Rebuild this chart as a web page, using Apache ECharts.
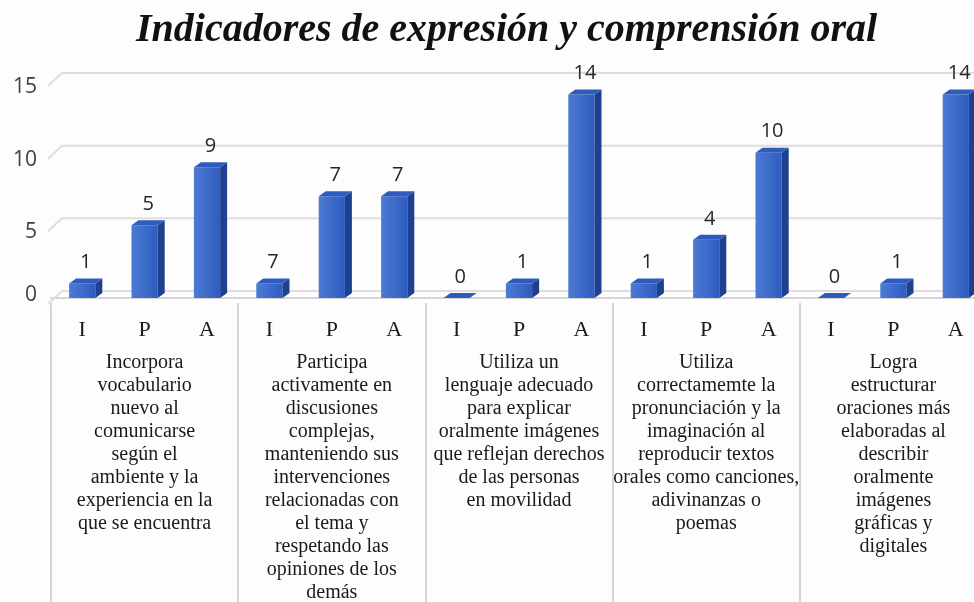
<!DOCTYPE html>
<html>
<head>
<meta charset="utf-8">
<script src="https://cdn.jsdelivr.net/npm/echarts@6/dist/echarts.min.js"></script>
<style>
html,body{margin:0;padding:0;background:#fdfdfd;}
#main{width:974px;height:602px;}
</style>
</head>
<body>
<div id="main"></div>
<script>
const titleText = 'Indicadores de expresión y comprensión oral';
const categories = ['I','P','A','I','P','A','I','P','A','I','P','A','I','P','A'];
const groupLabels = [
  'Incorpora\nvocabulario\nnuevo al\ncomunicarse\nsegún el\nambiente y la\nexperiencia en la\nque se encuentra',
  'Participa\nactivamente en\ndiscusiones\ncomplejas,\nmanteniendo sus\nintervenciones\nrelacionadas con\nel tema y\nrespetando las\nopiniones de los\ndemás',
  'Utiliza un\nlenguaje adecuado\npara explicar\noralmente imágenes\nque reflejan derechos\nde las personas\nen movilidad',
  'Utiliza\ncorrectamemte la\npronunciación y la\nimaginación al\nreproducir textos\norales como canciones,\nadivinanzas o\npoemas',
  'Logra\nestructurar\noraciones más\nelaboradas al\ndescribir\noralmente\nimágenes\ngráficas y\ndigitales'
];
const values = [1,5,9, 1,7,7, 0,1,14, 1,4,10, 0,1,14];
const valueLabels = ['1','5','9','7','7','7','0','1','14','1','4','10','0','1','14'];
const yTicks = [0,5,10,15];

const chart = echarts.init(document.getElementById('main'), null, {renderer:'canvas'});

const DX = 7, DY = 5;

function renderBar(params, api){
  const i = api.value(0), v = api.value(1);
  const base = api.coord([i, 0]);
  const top = api.coord([i, v]);
  const bw = api.size([1, 0])[0] * 0.42;
  const x = base[0] - bw/2;
  const yb = base[1], yt = top[1];
  const children = [];
  if (yb - yt > 0.5) {
    children.push({type:'rect', shape:{x:x, y:yt, width:bw, height:yb-yt},
      style:{fill:new echarts.graphic.LinearGradient(0,0,1,0,[{offset:0,color:'#4c7bd3'},{offset:1,color:'#2e5cc0'}])}});
    children.push({type:'polygon', shape:{points:[[x+bw,yt],[x+bw+DX,yt-DY],[x+bw+DX,yb-DY],[x+bw,yb]]},
      style:{fill:'#1f3f8f'}});
  }
  children.push({type:'polygon', shape:{points:[[x,yt],[x+DX,yt-DY],[x+bw+DX,yt-DY],[x+bw,yt]]},
    style:{fill:'#2f5bbd'}});
  children.push({type:'text', x: base[0] + DX/2, y: yt - 11,
    style:{text: valueLabels[params.dataIndex], fill:'#262626', font:'20px "Open Sans", sans-serif',
      textAlign:'center', textVerticalAlign:'bottom'}});
  return {type:'group', children: children};
}

function renderWall(params, api){
  const v = api.value(1);
  const y = api.coord([0, v])[1];
  const cs = params.coordSys;
  return {type:'polyline', shape:{points:[[cs.x-3, y+6],[cs.x+11, y-7],[cs.x+cs.width+20, y-7]]},
    style:{stroke:'#dedede', lineWidth:2, fill:null}};
}

const option = {
  backgroundColor:'#fdfdfd',
  animation:false,
  title:{text:titleText, left:131, top:6,
    textStyle:{fontFamily:'"Liberation Serif", serif', fontStyle:'italic', fontWeight:'bold', fontSize:40, color:'#111'}},
  grid:{left:51, top:80, width:936, height:218, containLabel:false, outerBoundsMode:'none'},
  xAxis:[
    {type:'category', data:categories, position:'bottom', offset:5,
      axisLine:{show:true, lineStyle:{color:'#d6d6d6', width:2}},
      axisTick:{show:false},
      axisLabel:{interval:0, margin:16, fontFamily:'"Liberation Serif", serif', fontSize:22, color:'#1a1a1a'}},
    {type:'category', data:groupLabels, position:'bottom', offset:5,
      axisLine:{show:false},
      axisTick:{show:true, interval:0, length:310, lineStyle:{color:'#d6d6d6', width:2}},
      axisLabel:{interval:0, hideOverlap:false, margin:48, fontFamily:'"Liberation Serif", serif', fontSize:20, lineHeight:23, color:'#1a1a1a', align:'center'}}
  ],
  yAxis:{type:'value', min:0, max:15, interval:5,
    axisLine:{show:false}, axisTick:{show:false}, splitLine:{show:false},
    axisLabel:{margin:14, color:'#404040', fontSize:21, fontFamily:'"Open Sans", sans-serif',
      formatter:function(v){ return v===0 ? '{z|0}' : '{n|'+v+'}'; },
      rich:{z:{fontSize:21, color:'#404040', padding:[0,0,6,0]}, n:{fontSize:21, color:'#404040', padding:[14,0,0,0]}}}},
  series:[
    {type:'custom', xAxisIndex:0, renderItem:renderWall, data:yTicks.map(v=>[0,v]), z:1, silent:true},
    {type:'custom', xAxisIndex:0, renderItem:renderBar, data:values.map((v,i)=>[i,v]), z:3, silent:true}
  ]
};
chart.setOption(option);
</script>
</body>
</html>
